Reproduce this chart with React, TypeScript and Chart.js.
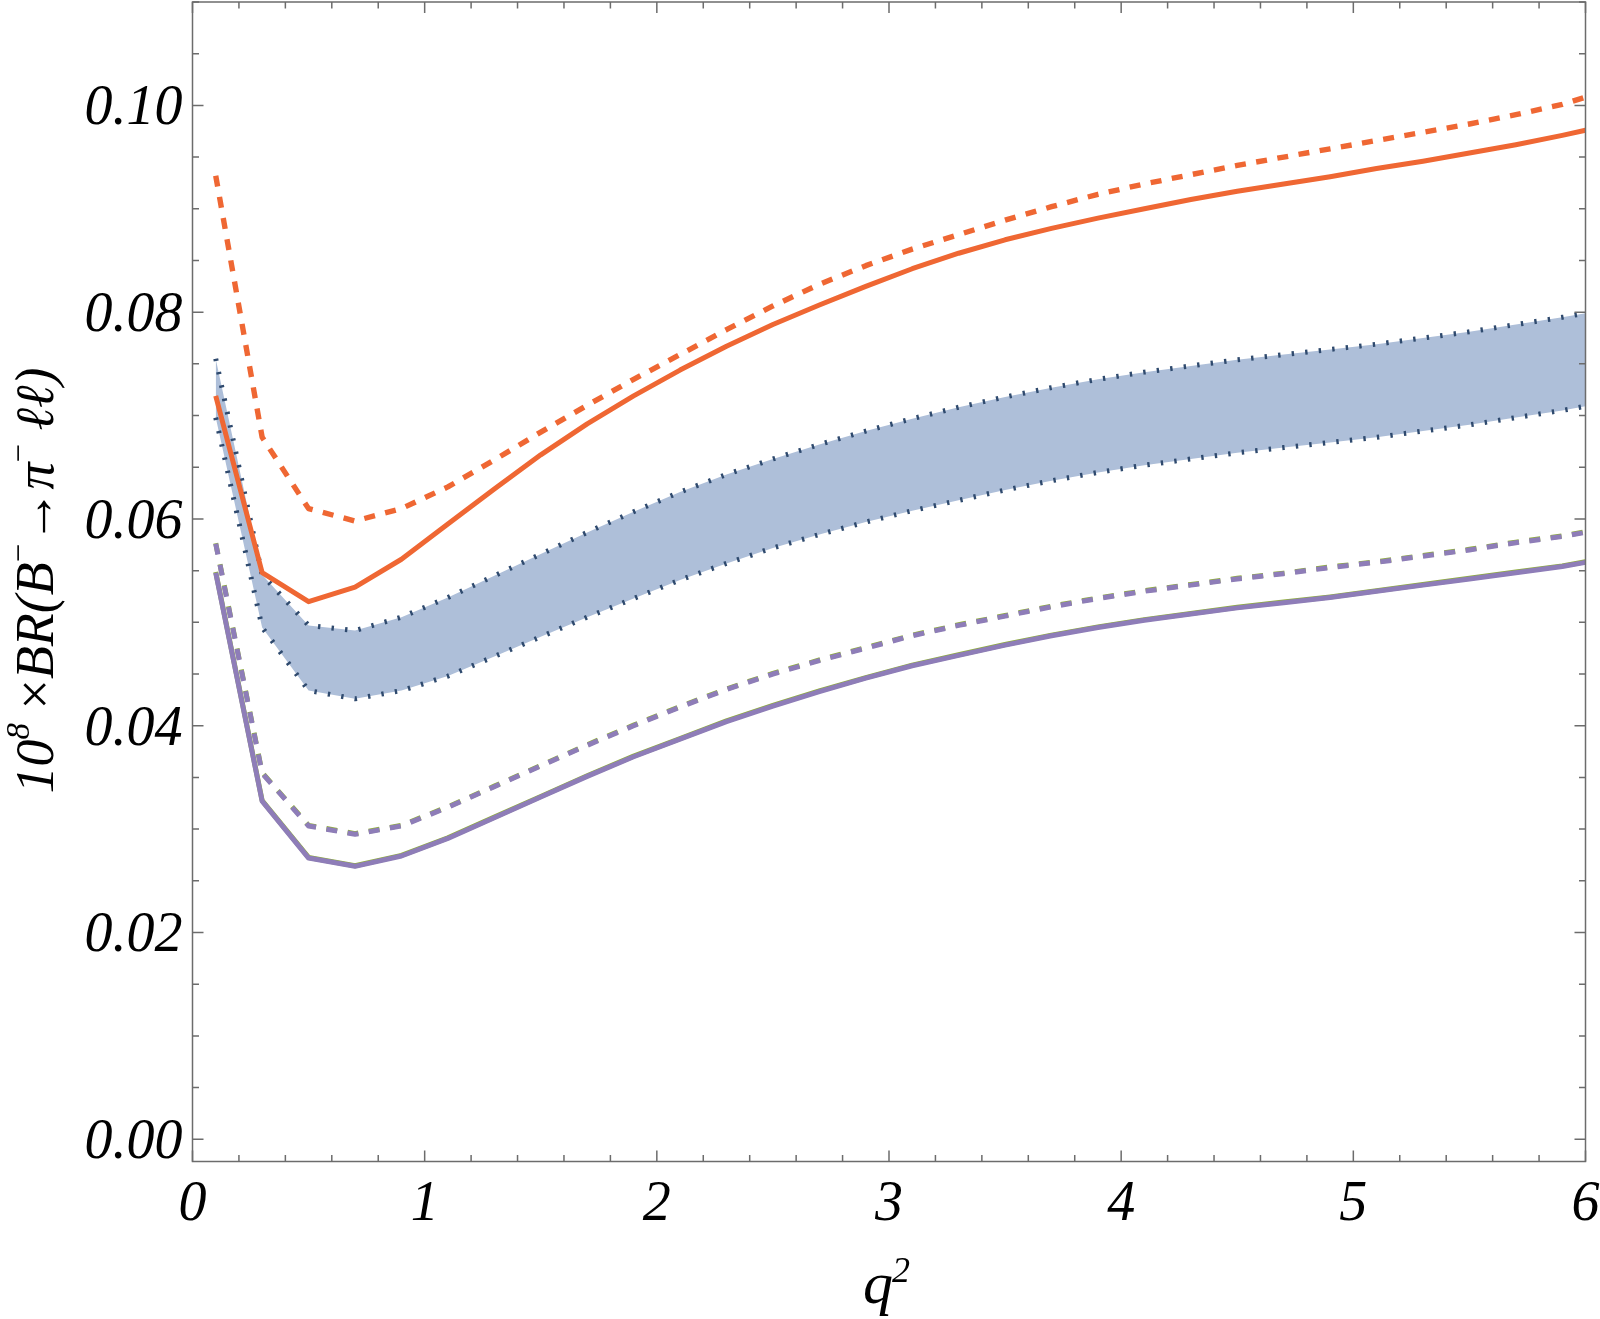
import React, { useEffect, useRef } from "react";
import { Chart, registerables } from "chart.js";

Chart.register(...registerables);

// q^2 sample points
const Q = [0.1, 0.3, 0.5, 0.7, 0.9, 1.1, 1.3, 1.5, 1.7, 1.9, 2.1, 2.3, 2.5, 2.7, 2.9, 3.1, 3.3, 3.5, 3.7, 3.9, 4.1, 4.3, 4.5, 4.7, 4.9, 5.1, 5.3, 5.5, 5.7, 5.9, 6.0];

const orangeDashed = [0.0932, 0.0679, 0.0610, 0.0598, 0.0610, 0.0631, 0.0657, 0.0684, 0.0710, 0.0735, 0.0759, 0.0783, 0.0806, 0.0827, 0.0845, 0.0861, 0.0875, 0.0889, 0.0902, 0.0914, 0.0924, 0.0933, 0.0942, 0.0950, 0.0958, 0.0966, 0.0974, 0.0982, 0.0991, 0.1001, 0.1008];
const orangeSolid = [0.0719, 0.0548, 0.0520, 0.0534, 0.0561, 0.0595, 0.0629, 0.0662, 0.0692, 0.0719, 0.0744, 0.0767, 0.0788, 0.0807, 0.0825, 0.0842, 0.0857, 0.0870, 0.0881, 0.0891, 0.0900, 0.0909, 0.0917, 0.0924, 0.0931, 0.0939, 0.0946, 0.0954, 0.0962, 0.0971, 0.0976];
const bandUpper = [0.0755, 0.0546, 0.0497, 0.0492, 0.0505, 0.0524, 0.0545, 0.0566, 0.0587, 0.0607, 0.0626, 0.0643, 0.0658, 0.0672, 0.0685, 0.0697, 0.0708, 0.0718, 0.0727, 0.0735, 0.0742, 0.0748, 0.0754, 0.0759, 0.0764, 0.0769, 0.0775, 0.0781, 0.0788, 0.0795, 0.0799];
const bandLower = [0.0698, 0.0495, 0.0434, 0.0426, 0.0434, 0.0448, 0.0467, 0.0486, 0.0505, 0.0523, 0.0541, 0.0557, 0.0572, 0.0585, 0.0597, 0.0608, 0.0618, 0.0628, 0.0637, 0.0645, 0.0652, 0.0658, 0.0664, 0.0669, 0.0674, 0.0679, 0.0685, 0.0691, 0.0698, 0.0705, 0.0709];
const purpleDashed = [0.0576, 0.0354, 0.0303, 0.0295, 0.0303, 0.0321, 0.0341, 0.0361, 0.0381, 0.0400, 0.0418, 0.0435, 0.0450, 0.0463, 0.0475, 0.0487, 0.0497, 0.0506, 0.0515, 0.0523, 0.0530, 0.0536, 0.0542, 0.0547, 0.0553, 0.0558, 0.0564, 0.0570, 0.0577, 0.0583, 0.0587];
const purpleSolid = [0.0548, 0.0327, 0.0272, 0.0264, 0.0274, 0.0291, 0.0311, 0.0331, 0.0351, 0.0370, 0.0387, 0.0404, 0.0419, 0.0433, 0.0446, 0.0458, 0.0468, 0.0478, 0.0487, 0.0495, 0.0502, 0.0508, 0.0514, 0.0519, 0.0524, 0.0530, 0.0536, 0.0542, 0.0548, 0.0554, 0.0558];

const xTickValues = [0, 1, 2, 3, 4, 5, 6];
const xTickLabels = ["0", "1", "2", "3", "4", "5", "6"];
const yTickValues = [0, 0.02, 0.04, 0.06, 0.08, 0.1];
const yTickLabels = ["0.00", "0.02", "0.04", "0.06", "0.08", "0.10"];

const X_MIN = 0;
const X_MAX = 6;
const Y_MIN = -0.00215;
const Y_MAX = 0.11;

const ORANGE = "#ef6733";
const PURPLE = "#8e7db8";
const GREEN = "#8fae3c";
const BAND = "#aebfd9";
const DOTS = "#2f4a6e";
const FRAME = "#6c6c6c";
const FONT = '"Liberation Serif", serif';

const pts = (arr: number[]) => Q.map((q, i) => ({ x: q, y: arr[i] }));

const framePlugin = {
  id: "mmaFrame",
  afterDatasetsDraw(chart: any) {
    const { ctx, chartArea, scales } = chart;
    const { left, right, top, bottom } = chartArea;
    const xs = scales.x;
    const ys = scales.y;
    ctx.save();
    ctx.strokeStyle = FRAME;
    ctx.lineWidth = 1.5;
    ctx.setLineDash([]);
    ctx.strokeRect(left, top, right - left, bottom - top);
    ctx.beginPath();
    for (let i = 0; i <= 30; i++) {
      const px = xs.getPixelForValue(i * 0.2);
      const len = i % 5 === 0 ? 11 : 6.5;
      ctx.moveTo(px, bottom);
      ctx.lineTo(px, bottom - len);
      ctx.moveTo(px, top);
      ctx.lineTo(px, top + len);
    }
    for (let i = 0; i <= 22; i++) {
      const py = ys.getPixelForValue(i * 0.005);
      if (py < top - 0.5) continue;
      const len = i % 4 === 0 ? 11 : 6.5;
      ctx.moveTo(left, py);
      ctx.lineTo(left + len, py);
      ctx.moveTo(right, py);
      ctx.lineTo(right - len, py);
    }
    ctx.stroke();

    ctx.fillStyle = "#000";
    ctx.font = `italic 56px ${FONT}`;
    ctx.textBaseline = "alphabetic";
    ctx.textAlign = "right";
    yTickValues.forEach((v, i) => {
      const py = ys.getPixelForValue(v);
      ctx.fillText(yTickLabels[i], left - 10, py + 19);
    });
    ctx.textAlign = "center";
    xTickValues.forEach((v, i) => {
      const px = xs.getPixelForValue(v);
      ctx.fillText(xTickLabels[i], px, bottom + 58.5);
    });

    // x axis title
    const cx = (left + right) / 2;
    ctx.textAlign = "left";
    ctx.font = `italic 60px ${FONT}`;
    const qw = ctx.measureText("q").width;
    ctx.font = `italic 36px ${FONT}`;
    const sw = ctx.measureText("2").width;
    const startX = cx - (qw + sw) / 2 - 2;
    ctx.font = `italic 60px ${FONT}`;
    ctx.fillText("q", startX, 1303);
    ctx.font = `italic 36px ${FONT}`;
    ctx.fillText("2", startX + qw - 1, 1282);

    // y axis title
    const main = 54;
    const sup = 33;
    const pieces: { t: string; s: boolean; italic: boolean }[] = [
      { t: "10", s: false, italic: true },
      { t: "8", s: true, italic: true },
      { t: " ×", s: false, italic: false },
      { t: "BR(B", s: false, italic: true },
      { t: "−", s: true, italic: false },
      { t: "→", s: false, italic: false },
      { t: "π", s: false, italic: true },
      { t: "−", s: true, italic: false },
      { t: " ℓℓ)", s: false, italic: true },
    ];
    const fontFor = (p: { s: boolean; italic: boolean }) =>
      `${p.italic ? "italic " : ""}${p.s ? sup : main}px ${FONT}`;
    let total = 0;
    const widths = pieces.map((p) => {
      ctx.font = fontFor(p);
      const w = ctx.measureText(p.t).width;
      total += w;
      return w;
    });
    ctx.translate(53, 580.5);
    ctx.rotate(-Math.PI / 2);
    let cur = -total / 2;
    pieces.forEach((p, i) => {
      ctx.font = fontFor(p);
      ctx.fillText(p.t, cur, p.s ? -24 : 0);
      cur += widths[i];
    });
    ctx.restore();
  },
};

const line = (arr: number[], color: string, width: number, dash: number[] = []) => ({
  data: pts(arr),
  borderColor: color,
  borderWidth: width,
  borderDash: dash,
  borderCapStyle: "butt" as const,
  borderJoinStyle: "round" as const,
  pointRadius: 0,
  tension: 0,
  fill: false as const,
});

export default function App() {
  const ref = useRef<HTMLCanvasElement | null>(null);
  useEffect(() => {
    let chart: Chart | null = null;
    let cancelled = false;
    const make = () => {
      if (cancelled || !ref.current) return;
      chart = new Chart(ref.current, {
        type: "line",
        data: {
          datasets: [
            line(orangeSolid, ORANGE, 5),
            line(orangeDashed, ORANGE, 5.4, [11, 10.5]),
            line(purpleSolid, PURPLE, 5),
            line(purpleDashed, PURPLE, 5, [11, 10.5]),
            {
              ...line(purpleSolid, GREEN, 5),
              data: Q.map((q, i) => ({ x: q, y: purpleSolid[i] + 0.00006 })),
            },
            {
              ...line(purpleDashed, GREEN, 5, [11, 10.5]),
              data: Q.map((q, i) => ({ x: q, y: purpleDashed[i] + 0.00006 })),
            },
            {
              ...line(bandUpper, DOTS, 5, [2.4, 11.2]),
              backgroundColor: BAND,
              fill: "+1",
            },
            line(bandLower, DOTS, 5, [2.4, 11.2]),
          ],
        },
        options: {
          animation: false,
          responsive: false,
          devicePixelRatio: 1,
          parsing: false as any,
          layout: { padding: { left: 192.5, top: 2, right: 14.5, bottom: 157.5 } },
          plugins: {
            legend: { display: false },
            tooltip: { enabled: false },
            filler: { drawTime: "beforeDatasetsDraw" } as any,
          },
          scales: {
            x: { type: "linear", min: X_MIN, max: X_MAX, display: false },
            y: { type: "linear", min: Y_MIN, max: Y_MAX, display: false },
          },
        },
        plugins: [framePlugin],
      });
    };
    const fonts: any = (document as any).fonts;
    if (fonts && fonts.load) {
      Promise.all([
        fonts.load('italic 56px "Liberation Serif"'),
        fonts.load('56px "Liberation Serif"'),
      ])
        .catch(() => null)
        .then(() => make());
    } else {
      make();
    }
    return () => {
      cancelled = true;
      if (chart) chart.destroy();
    };
  }, []);
  return (
    <div style={{ position: "absolute", left: 0, top: 0, width: 1600, height: 1319, background: "#fff" }}>
      <canvas ref={ref} width={1600} height={1319} style={{ width: 1600, height: 1319, display: "block" }} />
    </div>
  );
}
